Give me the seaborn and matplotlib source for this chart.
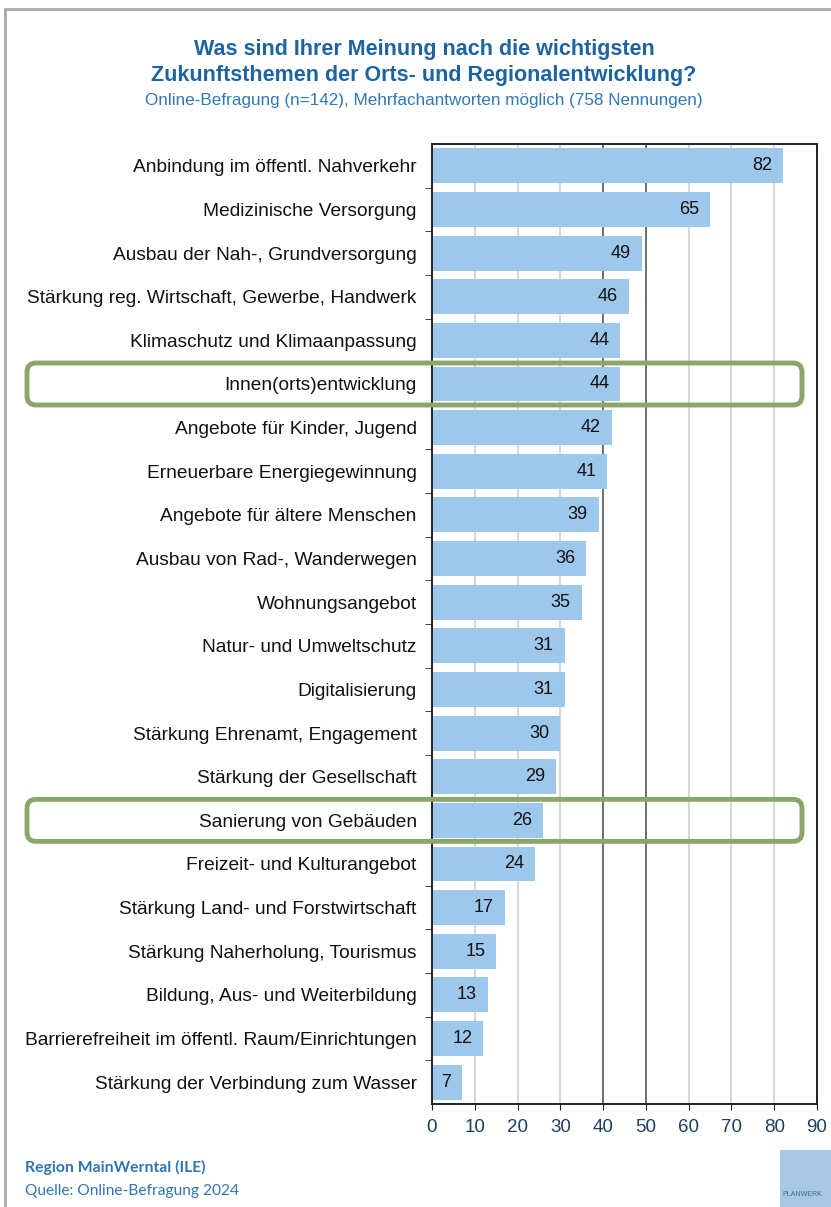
import matplotlib
matplotlib.use("Agg")
import seaborn as sns
import pandas as pd
from matplotlib import pyplot as plt
from matplotlib.patches import FancyBboxPatch, Rectangle
from matplotlib.transforms import IdentityTransform

# data
themes = [
    "Anbindung im öffentl. Nahverkehr",
    "Medizinische Versorgung",
    "Ausbau der Nah-, Grundversorgung",
    "Stärkung reg. Wirtschaft, Gewerbe, Handwerk",
    "Klimaschutz und Klimaanpassung",
    "Innen(orts)entwicklung",
    "Angebote für Kinder, Jugend",
    "Erneuerbare Energiegewinnung",
    "Angebote für ältere Menschen",
    "Ausbau von Rad-, Wanderwegen",
    "Wohnungsangebot",
    "Natur- und Umweltschutz",
    "Digitalisierung",
    "Stärkung Ehrenamt, Engagement",
    "Stärkung der Gesellschaft",
    "Sanierung von Gebäuden",
    "Freizeit- und Kulturangebot",
    "Stärkung Land- und Forstwirtschaft",
    "Stärkung Naherholung, Tourismus",
    "Bildung, Aus- und Weiterbildung",
    "Barrierefreiheit im öffentl. Raum/Einrichtungen",
    "Stärkung der Verbindung zum Wasser",
]
mentions = [82, 65, 49, 46, 44, 44, 42, 41, 39, 36, 35, 31, 31, 30, 29, 26, 24, 17, 15, 13, 12, 7]
highlighted = ["Innen(orts)entwicklung", "Sanierung von Gebäuden"]
x_ticks = [0, 10, 20, 30, 40, 50, 60, 70, 80, 90]

df = pd.DataFrame({"Thema": themes, "Nennungen": mentions})

plt.rcParams["font.family"] = ["Liberation Sans", "DejaVu Sans"]

W, H = 831, 1207
fig = plt.figure(figsize=(W / 100, H / 100), dpi=100)
ax = fig.add_axes([432 / W, 1 - 1104 / H, (817 - 432) / W, (1104 - 144) / H])

sns.barplot(data=df, y="Thema", x="Nennungen", orient="h", color="#9dc8ec",
            saturation=1, width=0.8, ax=ax, zorder=2)

for i, v in enumerate(mentions):
    ax.annotate(str(v), xy=(v, i), xytext=(-11, 0), textcoords="offset pixels",
                ha="right", va="center", fontsize=13, color="#111111", zorder=3)

ax.set_xlim(x_ticks[0], x_ticks[-1])
ax.set_ylim(len(themes) - 0.5, -0.5)
ax.set_xticks(x_ticks)
ax.set_xlabel("")
ax.set_ylabel("")
ax.tick_params(axis="x", labelsize=13.5, length=4, pad=7, colors="#222222", labelcolor="#1f3f5f")
ax.tick_params(axis="y", labelsize=13.8, length=0, pad=11, labelcolor="#111111")
ax.set_yticks([i + 0.5 for i in range(len(themes) - 1)], minor=True)
ax.tick_params(axis="y", which="minor", length=5, color="#222222", direction="out")

ax.grid(axis="x", color="#cfcfcf", linewidth=1.2, zorder=0)
ax.grid(axis="y", visible=False)
for val, line in zip(x_ticks, ax.xaxis.get_gridlines()):
    if val in (40, 50):
        line.set_color("#555555")
ax.set_axisbelow(True)
for s in ax.spines.values():
    s.set_color("#222222")
    s.set_linewidth(1.4)

# titles
fig.text(424 / W, 1 - 49 / H, "Was sind Ihrer Meinung nach die wichtigsten",
         ha="center", va="center", fontsize=15.5, fontweight="bold", color="#1d64a0")
fig.text(424 / W, 1 - 76 / H, "Zukunftsthemen der Orts- und Regionalentwicklung?",
         ha="center", va="center", fontsize=15.5, fontweight="bold", color="#1d64a0")
fig.text(424 / W, 1 - 101 / H,
         "Online-Befragung (n=142), Mehrfachantworten möglich (758 Nennungen)",
         ha="center", va="center", fontsize=12.3, color="#2f78b4")

# footer
fig.text(25 / W, 1 - 1167 / H, "Region MainWerntal (ILE)", ha="left", va="center",
         fontsize=11.3, fontweight="bold", color="#2e75b6", family=["Lato", "DejaVu Sans"])
fig.text(25 / W, 1 - 1191 / H, "Quelle: Online-Befragung 2024", ha="left", va="center",
         fontsize=11.2, color="#2e75b6", family=["Lato", "DejaVu Sans"])

# logo block
fig.patches.append(Rectangle((780 / W, 0), 60 / W, 57 / H, transform=fig.transFigure,
                             facecolor="#a8c8e6", edgecolor="none"))
fig.text(782 / W, 1 - 1195 / H, "PLANWERK", fontsize=5, color="#3a6a9a", va="center")

# outer frame
fig.patches.append(Rectangle((5 / W, -0.01), 1.1, 1 - 9 / H + 0.01, transform=fig.transFigure,
                             facecolor="none", edgecolor="#aaaaaa", linewidth=2))

# highlight boxes around rows
fig.canvas.draw()
for name in highlighted:
    idx = themes.index(name)
    _, yc = ax.transData.transform((0, idx))
    box = FancyBboxPatch((27, yc - 21), 775, 42, boxstyle="round,pad=0,rounding_size=9",
                         transform=IdentityTransform(), facecolor="none",
                         edgecolor="#8ba669", linewidth=3.5)
    fig.patches.append(box)

fig.savefig("out.png", dpi=100)
